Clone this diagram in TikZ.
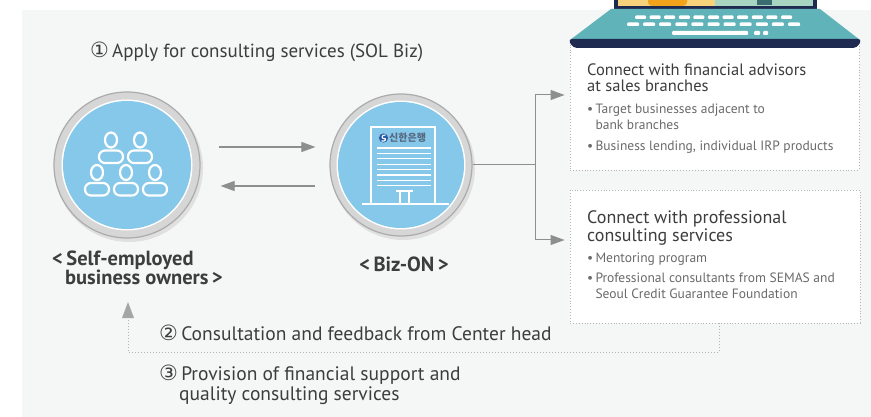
\documentclass[tikz,border=0pt]{standalone}
\usepackage{fontspec}
\setmainfont{PT Sans}
\newfontfamily\circfont{DejaVu Sans}
\newfontfamily\krfont{Noto Sans CJK KR}
\usetikzlibrary{arrows.meta,calc}

\definecolor{bggray}{HTML}{F5F6F6}
\definecolor{bubble}{HTML}{86C8E9}
\definecolor{ringgray}{HTML}{D6D6D6}
\definecolor{ringedge}{HTML}{ABABAB}
\definecolor{txtdark}{HTML}{3D3D3D}
\definecolor{txtgray}{HTML}{6A6A6A}
\definecolor{arrowgray}{HTML}{8E8E8E}
\definecolor{dotgray}{HTML}{B4B4B4}
\definecolor{lapteal}{HTML}{60B4B9}
\definecolor{lapnavy}{HTML}{1F2A50}
\definecolor{scryellow}{HTML}{F6D27A}
\definecolor{scrmint}{HTML}{A8D5C2}
\definecolor{scrorange}{HTML}{F3A21B}
\definecolor{shinblue}{HTML}{2A5BA8}
\definecolor{shintext}{HTML}{56677F}

\tikzset{
  ring/.style={circle, draw=ringedge, line width=1.2pt, fill=ringgray,
    minimum size=#1, inner sep=0pt},
  icon/.style={draw=white, line width=2.2pt},
  flow/.style={draw=arrowgray, line width=1.1pt, -{Triangle[length=14pt,width=10pt]}},
  fback/.style={draw=dotgray, line width=1pt, dotted},
  infobox/.style={draw=dotgray, dotted, line width=0.9pt, fill=white,
    inner sep=0pt, minimum width=#1},
  stephead/.style={font=\fontsize{19}{21}\selectfont, text=txtdark,
    inner sep=0pt, anchor=base west, align=left},
  lbl/.style={font=\bfseries\fontsize{20.5}{19}\selectfont, text=txtdark,
    inner sep=0pt, align=left},
  boxtitle/.style={text=txtdark, inner sep=0pt, anchor=base west, align=left},
  bullet/.style={font=\fontsize{13.5}{16}\selectfont, text=txtgray,
    inner sep=0pt, anchor=base west, align=left},
}
\newcommand{\circnum}[1]{{\circfont\fontsize{21}{18}\selectfont #1}\,}

\begin{document}
\begin{tikzpicture}[x=1pt,y=-1pt]
  \clip (0,0) rectangle (871,417);
  \fill[white] (0,0) rectangle (871,417);
  \fill[bggray] (22,10) rectangle (871,417);

  % the two round badges
  \fill[black!12] (129,168) circle (74);
  \fill[black!12] (403,168) circle (72);
  \node[ring=146pt] (owners) at (127,165) {};
  \node[ring=142pt] (biz) at (401,165) {};
  \fill[white] (owners) circle (65.5);
  \fill[bubble] (owners) circle (64);
  \fill[white] (biz) circle (64.5);
  \fill[bubble] (biz) circle (63);

  % people
  \foreach \cx/\cy in {111/140, 140/140, 97/172.5, 126/172.5, 155/172.5} {
    \draw[icon] (\cx,\cy) ellipse (6 and 7.5);
    \draw[icon, rounded corners=6] ({\cx-12},{\cy+23}) -- ({\cx-12},{\cy+10.5})
      -- ({\cx+12},{\cy+10.5}) -- ({\cx+12},{\cy+23}) -- cycle;
  }

  % bank building
  \draw[icon, line width=1.8pt] (371,204) -- (371,127) -- (435,127) -- (435,204);
  \draw[icon, line width=1.8pt] (362,204) -- (449,204);
  \foreach \k in {0,...,7}
    \draw[white, line width=1.3pt] (377,{148+\k*5.4}) -- (431,{148+\k*5.4});
  \draw[icon, line width=1.8pt] (400,204) -- (400,192) (409,204) -- (409,192)
    (396,191) -- (413,191);
  \fill[shinblue] (383.5,138) circle (4.6);
  \draw[white, line width=1.1pt] (385.5,135) .. controls (381,134.5) and (381.5,139) .. (384,138.5)
    .. controls (386.5,138) and (386,142) .. (381.5,141);
  \node[font=\krfont\bfseries\fontsize{10}{10}\selectfont, text=shintext,
    inner sep=0pt, anchor=west] (logo) at (389,138) {신한은행};

  % step 1
  \node[stephead] (apply) at (90,58)
    {\circnum{①}Apply for consulting services (SOL Biz)};
  \draw[flow] ($(owners.east)+(18,-18)$) -- ($(biz.west)+(-14,-18)$);
  \draw[flow] ($(biz.west)+(-14,21)$) -- ($(owners.east)+(20,21)$);

  \node[lbl, anchor=base west] (ownerslbl) at (52,284)
    {<\,Self-employed\\\hspace*{13pt}business owners\,>};
  \node[lbl, anchor=base] (bizlbl) at (404,272) {<\,Biz-ON\,>};

  % the two ways out of Biz-ON
  \node[infobox=289pt, minimum height=125pt] (advbox) at (714.5,107.5) {};
  \node[infobox=290pt, minimum height=133pt] (conbox) at (715,256.5) {};
  \coordinate (fork) at (535,166);
  \draw[draw=arrowgray, line width=1pt] (biz.east) -- (biz.east -| fork);
  \draw[flow, line width=1pt] (fork) |- ($(advbox.west)+(-5,-12.5)$);
  \draw[flow, line width=1pt] (fork) |- ($(conbox.west)+(-5,-16.5)$);

  \node[boxtitle, font=\fontsize{16.5}{16}\selectfont] (advttl) at (587,92)
    {Connect with financial advisors\\at sales branches};
  \node[bullet] (adv1) at (587,129.5)
    {\textbullet\,Target businesses adjacent to\\\hphantom{\textbullet\,}bank branches};
  \node[bullet] (adv2) at (587,150.5)
    {\textbullet\,Business lending, individual IRP products};

  \node[boxtitle, font=\fontsize{18}{19}\selectfont] (conttl) at (587,242)
    {Connect with professional\\consulting services};
  \node[bullet] (con1) at (587,262.5) {\textbullet\,Mentoring program};
  \node[bullet] (con2) at (587,298.5)
    {\textbullet\,Professional consultants from SEMAS and\\\hphantom{\textbullet\,}Seoul Credit Guarantee Foundation};

  % laptop
  \fill[lapnavy] (614,-5) rectangle (817,9);
  \fill[scryellow] (618,-5) rectangle (715,6);
  \fill[scrmint] (715,-5) rectangle (813,6);
  \fill[scrorange, rounded corners=4] (648,-8) rectangle (687,6);
  \fill[lapteal!60!black] (757,-5) rectangle (772,5);
  \fill[lapteal] (611,9) -- (820,9) -- (860,40) -- (570,40) -- cycle;
  \fill[lapnavy, rounded corners=4] (568,39) -- (862,39) -- (857,48) -- (573,48) -- cycle;
  \foreach \i in {0,...,10} {
    \fill[white, rounded corners=1] ({635+\i*14.6},15.5) rectangle ++(11,3.5);
    \fill[white, rounded corners=1] ({627+\i*16.1},22.5) rectangle ++(12,3.5);
  }
  \fill[white, rounded corners=1] (672,31) rectangle (748,35);
  \fill[white, rounded corners=1] (754,31) rectangle (760,35);
  \fill[white, rounded corners=1] (763,31) rectangle (768,35);

  % steps 2 and 3
  \coordinate (fbturn) at (128,352);
  \draw[fback] ($(conbox.south)+(4,0)$) |- (fbturn) -- (128,316);
  \draw[draw=none, fill=arrowgray!80] (128,302) -- (134,318) -- (122,318) -- cycle;
  \node[stephead, font=\fontsize{19.5}{20}\selectfont] (feedback) at (159,340)
    {\circnum{②}Consultation and feedback from Center head};
  \node[stephead, font=\fontsize{19.5}{20}\selectfont] (support) at (159,400)
    {\circnum{③}Provision of financial support and\\\hspace*{20pt}quality consulting services};
\end{tikzpicture}
\end{document}
